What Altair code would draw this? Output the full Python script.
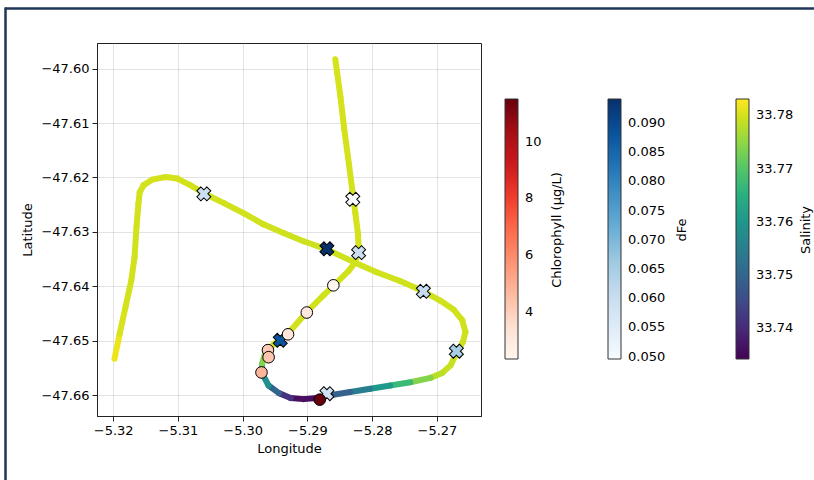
import altair as alt
import pandas as pd

# ---- track (ship path) ----
lon = [-5.3198, -5.3190, -5.3181, -5.3172, -5.3167, -5.3164, -5.3161, -5.3159, -5.3153, -5.3140,
       -5.3119, -5.3101, -5.3081, -5.3060, -5.3029, -5.2998, -5.2968, -5.2937, -5.2906, -5.2870,
       -5.2829, -5.2793, -5.2757, -5.2721, -5.2695, -5.2674, -5.2661, -5.2656, -5.2660, -5.2669,
       -5.2679, -5.2692, -5.2710, -5.2741, -5.2772, -5.2803, -5.2834, -5.2865, -5.2885, -5.2906,
       -5.2926, -5.2944, -5.2960, -5.2970, -5.2970, -5.2965, -5.2952, -5.2939, -5.2926, -5.2901,
       -5.2875, -5.2854, -5.2836, -5.2826, -5.2821, -5.2822, -5.2826, -5.2830, -5.2836, -5.2843,
       -5.2849, -5.2854, -5.2857]
lat = [-47.6533, -47.6487, -47.6438, -47.6389, -47.6346, -47.6291, -47.6248, -47.6227, -47.6214, -47.6204,
       -47.6199, -47.6202, -47.6214, -47.6229, -47.6247, -47.6266, -47.6286, -47.6302, -47.6317, -47.6332,
       -47.6355, -47.6374, -47.6390, -47.6409, -47.6426, -47.6443, -47.6462, -47.6484, -47.6502, -47.6521,
       -47.6545, -47.6559, -47.6568, -47.6576, -47.6582, -47.6588, -47.6594, -47.6600, -47.6605, -47.6607,
       -47.6605, -47.6596, -47.6582, -47.6560, -47.6542, -47.6521, -47.6506, -47.6496, -47.6481, -47.6447,
       -47.6416, -47.6392, -47.6371, -47.6355, -47.6328, -47.6303, -47.6266, -47.6230, -47.6175, -47.6113,
       -47.6052, -47.6009, -47.5983]
sal = [33.7831, 33.7805, 33.7800, 33.7798, 33.7797, 33.7797, 33.7798, 33.7798, 33.7799, 33.7799,
       33.7800, 33.7800, 33.7799, 33.7798, 33.7797, 33.7797, 33.7796, 33.7796, 33.7795, 33.7795,
       33.7796, 33.7796, 33.7797, 33.7797, 33.7797, 33.7797, 33.7797, 33.7796, 33.7795, 33.7794,
       33.7792, 33.7788, 33.7772, 33.7710, 33.7640, 33.7575, 33.7520, 33.7465, 33.7375, 33.7342,
       33.7375, 33.7450, 33.7545, 33.7620, 33.7700, 33.7780, 33.7795, 33.7797, 33.7797, 33.7798,
       33.7798, 33.7798, 33.7798, 33.7798, 33.7799, 33.7799, 33.7799, 33.7800, 33.7800, 33.7800,
       33.7801, 33.7801, 33.7801]

# ---- chlorophyll samples ----
chl_lon = [-5.2860, -5.2901, -5.2930, -5.2961, -5.2960, -5.2971, -5.2881]
chl_lat = [-47.6398, -47.6448, -47.6488, -47.6517, -47.6530, -47.6558, -47.6608]
chl_val = [2.32, 3.05, 3.15, 4.15, 4.30, 4.80, 11.52]

# ---- dFe samples ----
fe_lon = [-5.3060, -5.2830, -5.2870, -5.2821, -5.2721, -5.2670, -5.2870, -5.2942]
fe_lat = [-47.6230, -47.6240, -47.6331, -47.6338, -47.6409, -47.6519, -47.6597, -47.6499]
fe_val = [0.0594, 0.0496, 0.0941, 0.0594, 0.0607, 0.0650, 0.0585, 0.0880]

x_ticks = [-5.32, -5.31, -5.30, -5.29, -5.28, -5.27]
y_ticks = [-47.66, -47.65, -47.64, -47.63, -47.62, -47.61, -47.60]
chl_ticks = [4, 6, 8, 10]
fe_ticks = [0.050, 0.055, 0.060, 0.065, 0.070, 0.075, 0.080, 0.085, 0.090]
sal_ticks = [33.74, 33.75, 33.76, 33.77, 33.78]
cbar_titles = ["Chlorophyll (µg/L)", "dFe", "Salinity"]

# matplotlib-like colour ramps
reds = ["#fff5f0", "#fee0d2", "#fcbba1", "#fc9272", "#fb6a4a", "#ef3b2c", "#cb181d", "#a50f15", "#67000d"]
blues = ["#f7fbff", "#deebf7", "#c6dbef", "#9ecae1", "#6baed6", "#4292c6", "#2171b5", "#08519c", "#08306b"]


def stops(lo, hi, n):
    return [lo + (hi - lo) * i / (n - 1) for i in range(n)]


seg = pd.DataFrame({
    "lon": lon[:-1], "lat": lat[:-1], "lon2": lon[1:], "lat2": lat[1:],
    "sal": [(a + b) / 2 for a, b in zip(sal[:-1], sal[1:])],
})
chl_df = pd.DataFrame({"lon": chl_lon, "lat": chl_lat, "chl": chl_val})
fe_df = pd.DataFrame({"lon": fe_lon, "lat": fe_lat, "dfe": fe_val})

xscale = alt.Scale(domain=[-5.3225, -5.2632], nice=False, zero=False)
yscale = alt.Scale(domain=[-47.6638, -47.5953], nice=False, zero=False)
X = alt.X("lon:Q", scale=xscale, axis=alt.Axis(title="Longitude", values=x_ticks, format=".2f"))
Y = alt.Y("lat:Q", scale=yscale, axis=alt.Axis(title="Latitude", values=y_ticks, format=".2f"))


def cbar(x, values, fmt):
    return alt.Legend(
        title=None, orient="none", legendX=x, legendY=56, direction="vertical",
        gradientLength=260, gradientThickness=13,
        values=values, format=fmt, labelFontSize=13,
        gradientStrokeColor="#333333", gradientStrokeWidth=1,
        padding=0, labelOffset=7, labelOverlap=False, labelFont="DejaVu Sans",
        labelColor="black",
    )


track = alt.Chart(seg).mark_rule(strokeWidth=6, strokeCap="round").encode(
    x=X, y=Y, x2="lon2:Q", y2="lat2:Q",
    color=alt.Color("sal:Q", scale=alt.Scale(scheme="viridis", domain=[min(sal), max(sal)], nice=False, zero=False),
                    legend=cbar(639, sal_ticks, ".2f")),
)

crosses = alt.Chart(fe_df).mark_point(shape="cross", angle=45, size=200, filled=True,
                                       stroke="black", strokeWidth=1, opacity=1).encode(
    x=X, y=Y,
    fill=alt.Fill("dfe:Q", scale=alt.Scale(domain=stops(min(fe_val), max(fe_val), 9), range=blues,
                                           nice=False, zero=False, interpolate="rgb"),
                  legend=cbar(511, fe_ticks, ".3f")),
)

circles = alt.Chart(chl_df).mark_circle(size=135, stroke="black", strokeWidth=1, opacity=1).encode(
    x=X, y=Y,
    fill=alt.Fill("chl:Q", scale=alt.Scale(domain=stops(min(chl_val), max(chl_val), 9), range=reds,
                                           nice=False, zero=False, interpolate="rgb"),
                  legend=cbar(408, chl_ticks, "d")),
)

title_df = pd.DataFrame({"k": [0]})
title_x = [459.7, 584.7, 709]
titles = [
    alt.Chart(title_df).mark_text(text=t, angle=270, font="DejaVu Sans", fontSize=13, color="black",
                                  align="center", baseline="middle").encode(
        x=alt.value(tx), y=alt.value(187))
    for t, tx in zip(cbar_titles, title_x)
]

frame_top = alt.Chart(title_df).mark_rule(color="#1f3659", strokeWidth=2.5).encode(
    x=alt.value(-92), x2=alt.value(740), y=alt.value(-34.5))
frame_left = alt.Chart(title_df).mark_rule(color="#1f3659", strokeWidth=2.5).encode(
    x=alt.value(-91.5), y=alt.value(-35.5), y2=alt.value(440))

chart = alt.layer(track, crosses, circles, *titles, frame_top, frame_left).resolve_scale(
    color="independent", fill="independent"
).properties(
    width=384, height=373,
    padding={"left": 97, "top": 43, "right": 333, "bottom": 64},
    autosize=alt.AutoSizeParams(type="none"),
    background="white",
).configure_view(
    stroke="#222222", strokeWidth=1
).configure_axis(
    labelFont="DejaVu Sans", titleFont="DejaVu Sans", labelFontSize=13, titleFontSize=13,
    titleFontWeight="normal", labelColor="black", titleColor="black",
    tickColor="#222222", domainColor="#222222", tickSize=5, labelPadding=3,
    gridColor="#b0b0b0", gridOpacity=0.35, gridWidth=1,
).configure_axisX(titlePadding=5).configure_axisY(titlePadding=6)

chart.save("out.html", embed_options={"renderer": "svg", "actions": False})
